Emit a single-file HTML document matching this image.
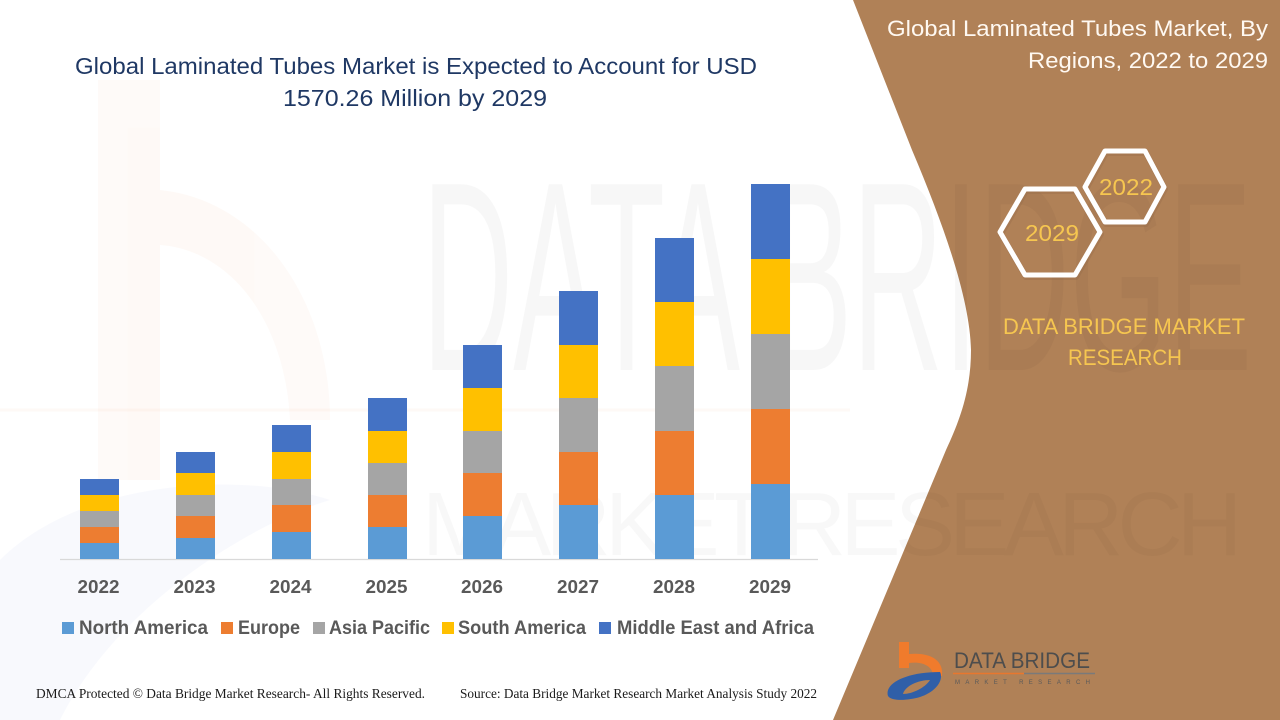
<!DOCTYPE html>
<html>
<head>
<meta charset="utf-8">
<style>
html,body{margin:0;padding:0;background:#fff;}
svg{display:block;}
</style>
</head>
<body>
<svg width="1280" height="720" viewBox="0 0 1280 720" xmlns="http://www.w3.org/2000/svg">
  <rect x="0" y="0" width="1280" height="720" fill="#ffffff"/>

  <!-- faint watermark logo on left -->
  <g opacity="0.035">
    <rect x="98" y="80" width="62" height="400" fill="#ED7D31"/>
    <path d="M160,190 C260,200 330,300 330,420 L290,420 C285,320 230,250 160,245 Z" fill="#ED7D31"/>
  </g>
  <path d="M0,560 C80,480 240,470 330,500 C260,520 120,600 60,720 L0,720 Z" fill="#4472C4" opacity="0.04"/>
  <line x1="0" y1="410" x2="850" y2="410" stroke="#ED7D31" stroke-width="3" opacity="0.04"/>

  <!-- right brown panel -->
  <path d="M853,0 L912,150 C945,228 970,300 971,350 C971,390 960,420 946,450 L833,720 L1280,720 L1280,0 Z" fill="#B08157"/>

  <!-- watermark text -->
  <text x="422" y="370" font-family="Liberation Sans, sans-serif" font-size="270" textLength="830" lengthAdjust="spacingAndGlyphs" fill="#000" opacity="0.028">DATA BRIDGE</text>
  <text x="422" y="555" font-family="Liberation Sans, sans-serif" font-size="90" textLength="820" lengthAdjust="spacing" fill="#000" opacity="0.022">MARKET RESEARCH</text>

  <!-- main title -->
  <g font-family="Liberation Sans, Carlito, sans-serif" font-size="23" fill="#1F3864" text-anchor="middle">
    <text x="416" y="74" textLength="682" lengthAdjust="spacingAndGlyphs">Global Laminated Tubes Market is Expected to Account for USD</text>
    <text x="415" y="106" textLength="264" lengthAdjust="spacingAndGlyphs">1570.26 Million by 2029</text>
  </g>

  <!-- axis line -->
  <line x1="60" y1="559.5" x2="818" y2="559.5" stroke="#D9D9D9" stroke-width="1.2"/>

  <!-- bars -->
  <g>
    <rect x="80" y="479" width="39" height="16" fill="#4472C4"/>
    <rect x="80" y="495" width="39" height="16" fill="#FFC000"/>
    <rect x="80" y="511" width="39" height="16" fill="#A5A5A5"/>
    <rect x="80" y="527" width="39" height="16" fill="#ED7D31"/>
    <rect x="80" y="543" width="39" height="16" fill="#5B9BD5"/>

    <rect x="176" y="452" width="39" height="21" fill="#4472C4"/>
    <rect x="176" y="473" width="39" height="22" fill="#FFC000"/>
    <rect x="176" y="495" width="39" height="21" fill="#A5A5A5"/>
    <rect x="176" y="516" width="39" height="22" fill="#ED7D31"/>
    <rect x="176" y="538" width="39" height="21" fill="#5B9BD5"/>

    <rect x="272" y="425" width="39" height="27" fill="#4472C4"/>
    <rect x="272" y="452" width="39" height="27" fill="#FFC000"/>
    <rect x="272" y="479" width="39" height="26" fill="#A5A5A5"/>
    <rect x="272" y="505" width="39" height="27" fill="#ED7D31"/>
    <rect x="272" y="532" width="39" height="27" fill="#5B9BD5"/>

    <rect x="368" y="398" width="39" height="33" fill="#4472C4"/>
    <rect x="368" y="431" width="39" height="32" fill="#FFC000"/>
    <rect x="368" y="463" width="39" height="32" fill="#A5A5A5"/>
    <rect x="368" y="495" width="39" height="32" fill="#ED7D31"/>
    <rect x="368" y="527" width="39" height="32" fill="#5B9BD5"/>

    <rect x="463" y="345" width="39" height="43" fill="#4472C4"/>
    <rect x="463" y="388" width="39" height="43" fill="#FFC000"/>
    <rect x="463" y="431" width="39" height="42" fill="#A5A5A5"/>
    <rect x="463" y="473" width="39" height="43" fill="#ED7D31"/>
    <rect x="463" y="516" width="39" height="43" fill="#5B9BD5"/>

    <rect x="559" y="291" width="39" height="54" fill="#4472C4"/>
    <rect x="559" y="345" width="39" height="53" fill="#FFC000"/>
    <rect x="559" y="398" width="39" height="54" fill="#A5A5A5"/>
    <rect x="559" y="452" width="39" height="53" fill="#ED7D31"/>
    <rect x="559" y="505" width="39" height="54" fill="#5B9BD5"/>

    <rect x="655" y="238" width="39" height="64" fill="#4472C4"/>
    <rect x="655" y="302" width="39" height="64" fill="#FFC000"/>
    <rect x="655" y="366" width="39" height="65" fill="#A5A5A5"/>
    <rect x="655" y="431" width="39" height="64" fill="#ED7D31"/>
    <rect x="655" y="495" width="39" height="64" fill="#5B9BD5"/>

    <rect x="751" y="184" width="39" height="75" fill="#4472C4"/>
    <rect x="751" y="259" width="39" height="75" fill="#FFC000"/>
    <rect x="751" y="334" width="39" height="75" fill="#A5A5A5"/>
    <rect x="751" y="409" width="39" height="75" fill="#ED7D31"/>
    <rect x="751" y="484" width="39" height="75" fill="#5B9BD5"/>
  </g>

  <!-- year labels -->
  <g font-family="Liberation Sans, sans-serif" font-size="18" font-weight="bold" fill="#595959" text-anchor="middle">
    <text x="98.5" y="593" textLength="42" lengthAdjust="spacingAndGlyphs">2022</text>
    <text x="194.5" y="593" textLength="42" lengthAdjust="spacingAndGlyphs">2023</text>
    <text x="290.5" y="593" textLength="42" lengthAdjust="spacingAndGlyphs">2024</text>
    <text x="386.5" y="593" textLength="42" lengthAdjust="spacingAndGlyphs">2025</text>
    <text x="482" y="593" textLength="42" lengthAdjust="spacingAndGlyphs">2026</text>
    <text x="578" y="593" textLength="42" lengthAdjust="spacingAndGlyphs">2027</text>
    <text x="674" y="593" textLength="42" lengthAdjust="spacingAndGlyphs">2028</text>
    <text x="770" y="593" textLength="42" lengthAdjust="spacingAndGlyphs">2029</text>
  </g>

  <!-- legend -->
  <g font-family="Liberation Sans, sans-serif" font-size="19" font-weight="bold" fill="#595959">
    <rect x="62" y="622" width="12" height="12" fill="#5B9BD5"/>
    <text x="79" y="634" textLength="129" lengthAdjust="spacingAndGlyphs">North America</text>
    <rect x="221" y="622" width="12" height="12" fill="#ED7D31"/>
    <text x="238" y="634" textLength="62" lengthAdjust="spacingAndGlyphs">Europe</text>
    <rect x="313" y="622" width="12" height="12" fill="#A5A5A5"/>
    <text x="329" y="634" textLength="101" lengthAdjust="spacingAndGlyphs">Asia Pacific</text>
    <rect x="442" y="622" width="12" height="12" fill="#FFC000"/>
    <text x="458" y="634" textLength="128" lengthAdjust="spacingAndGlyphs">South America</text>
    <rect x="599" y="622" width="12" height="12" fill="#4472C4"/>
    <text x="617" y="634" textLength="197" lengthAdjust="spacingAndGlyphs">Middle East and Africa</text>
  </g>

  <!-- footer -->
  <g font-family="Liberation Serif, serif" font-size="14" fill="#1a1a1a">
    <text x="36" y="698" textLength="389" lengthAdjust="spacingAndGlyphs">DMCA Protected © Data Bridge Market Research- All Rights Reserved.</text>
    <text x="460" y="698" textLength="357" lengthAdjust="spacingAndGlyphs">Source: Data Bridge Market Research Market Analysis Study 2022</text>
  </g>

  <!-- right title -->
  <g font-family="Liberation Sans, Carlito, sans-serif" font-size="22" fill="#FFF9F2" text-anchor="end">
    <text x="1268" y="36" textLength="381" lengthAdjust="spacingAndGlyphs">Global Laminated Tubes Market, By</text>
    <text x="1268" y="68" textLength="240" lengthAdjust="spacingAndGlyphs">Regions, 2022 to 2029</text>
  </g>

  <!-- hexagons -->
  <g fill="none" stroke="#FFFFFF" stroke-width="5" stroke-linejoin="round">
    <polygon points="1085,187 1105,151 1145,151 1164,187 1145,222 1105,222" stroke="#8d6444" stroke-width="6" opacity="0.25" transform="translate(1,2)"/>
    <polygon points="1085,187 1105,151 1145,151 1164,187 1145,222 1105,222"/>
    <polygon points="1000,232 1025,189 1075,189 1100,232 1075,275 1025,275" stroke="#8d6444" stroke-width="6" opacity="0.25" transform="translate(1,2)"/>
    <polygon points="1000,232 1025,189 1075,189 1100,232 1075,275 1025,275"/>
  </g>
  <g font-family="Liberation Sans, Carlito, sans-serif" font-size="23" fill="#F6C650" text-anchor="middle">
    <text x="1126" y="195" textLength="54" lengthAdjust="spacingAndGlyphs">2022</text>
    <text x="1052" y="241" textLength="54" lengthAdjust="spacingAndGlyphs">2029</text>
  </g>

  <!-- DATA BRIDGE MARKET RESEARCH -->
  <g font-family="Liberation Sans, Carlito, sans-serif" font-size="22" fill="#F6C650" text-anchor="middle">
    <text x="1124" y="334" textLength="242" lengthAdjust="spacingAndGlyphs">DATA BRIDGE MARKET</text>
    <text x="1125" y="365" textLength="114" lengthAdjust="spacingAndGlyphs">RESEARCH</text>
  </g>

  <!-- bottom logo -->
  <g>
    <rect x="899" y="642" width="10" height="26" fill="#F07B2C"/>
    <path d="M909,654 C930,652 944,660 942,676 L933,676 C933,666 922,661 909,663 Z" fill="#F07B2C"/>
    <path d="M888,696 C884,684 905,672 940,672 C944,680 936,692 920,697 C910,700 892,702 888,696 Z M903,694 C912,694 925,688 930,680 C918,680 905,686 903,694 Z" fill="#2F5FA8" fill-rule="evenodd"/>
    <text x="954" y="668" font-family="Liberation Sans, sans-serif" font-size="22" fill="#4d4d4d" textLength="136" lengthAdjust="spacingAndGlyphs">DATA BRIDGE</text>
    <line x1="953" y1="673.5" x2="1024" y2="673.5" stroke="#E8772E" stroke-width="1.5"/>
    <line x1="1024" y1="673.5" x2="1095" y2="673.5" stroke="#7a7a7a" stroke-width="1.5"/>
    <text x="955" y="684" font-family="Liberation Sans, sans-serif" font-size="6" fill="#5a5a5a" textLength="135" lengthAdjust="spacing">MARKET RESEARCH</text>
  </g>
</svg>
</body>
</html>
